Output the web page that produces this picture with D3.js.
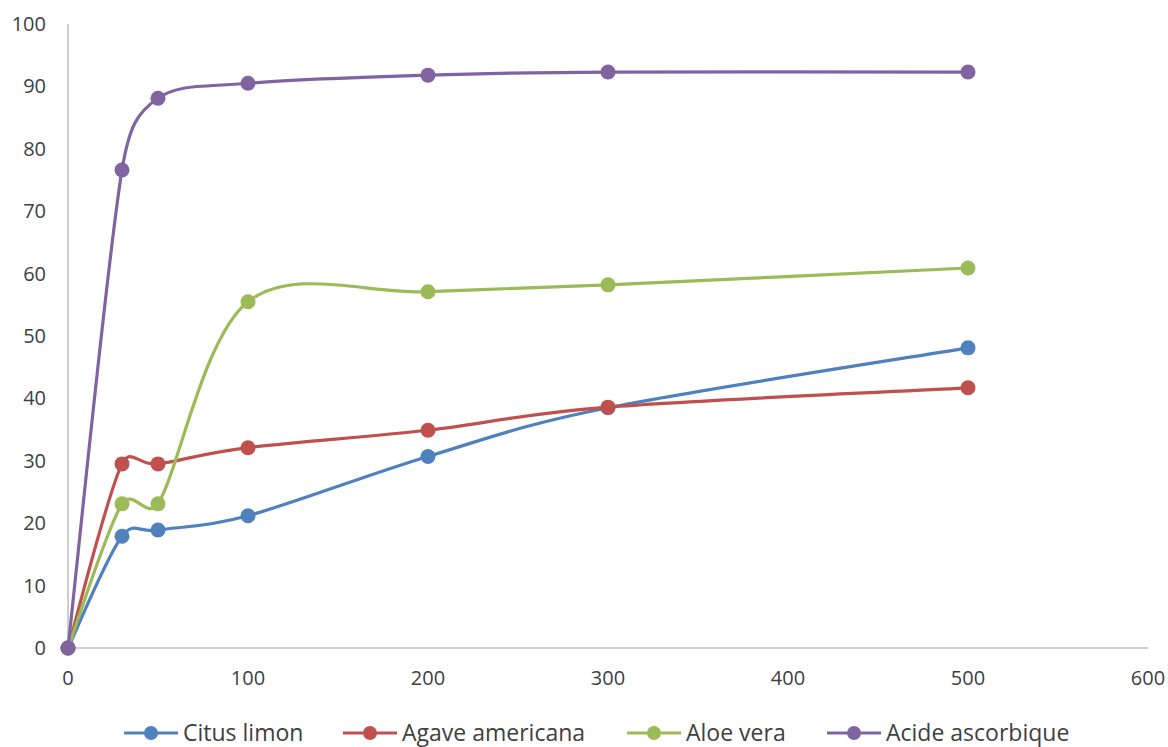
<!DOCTYPE html>
<html>
<head>
<meta charset="utf-8">
<script src="https://cdn.jsdelivr.net/npm/d3@7/dist/d3.min.js"></script>
<style>
  html, body { margin: 0; padding: 0; background: #fff; }
  svg text { font-family: "Open Sans", "Noto Sans", sans-serif; fill: #404040; }
</style>
</head>
<body>
<svg id="chart" width="1168" height="747"></svg>
<script>
// Concentrations (x) and percentage values per extract
const concentrations = [0, 30, 50, 100, 200, 300, 500];
const citusLimon      = [0, 17.9, 18.9, 21.2, 30.7, 38.5, 48.1];
const agaveAmericana  = [0, 29.5, 29.5, 32.1, 34.9, 38.6, 41.7];
const aloeVera        = [0, 23.1, 23.1, 55.5, 57.1, 58.2, 60.9];
const acideAscorbique = [0, 76.6, 88.1, 90.5, 91.8, 92.3, 92.3];

const seriesNames = ["Citus limon", "Agave americana", "Aloe vera", "Acide ascorbique"];
const seriesValues = [citusLimon, agaveAmericana, aloeVera, acideAscorbique];
const seriesColors = ["#4F81BD", "#C0504D", "#9BBB59", "#8064A2"];

const xTicks = [0, 100, 200, 300, 400, 500, 600];
const yTicks = [0, 10, 20, 30, 40, 50, 60, 70, 80, 90, 100];

const svg = d3.select("#chart");
const x = d3.scaleLinear().domain([0, 600]).range([68, 1148]);
const y = d3.scaleLinear().domain([0, 100]).range([648, 24]);

// Smooth Bezier curve: tangents of (next - prev) / 6, shortened so a
// control handle never exceeds a fraction of its own segment length.
function smoothCurve(context) {
  let pts = [];
  return {
    areaStart() {}, areaEnd() {},
    lineStart() { pts = []; },
    point(px, py) { pts.push([+px, +py]); },
    lineEnd() {
      const n = pts.length;
      if (!n) return;
      context.moveTo(pts[0][0], pts[0][1]);
      const tan = pts.map((p, i) => {
        const a = pts[Math.max(0, i - 1)], b = pts[Math.min(n - 1, i + 1)];
        return [(b[0] - a[0]) / 6, (b[1] - a[1]) / 6];
      });
      const clamp = (t, len) => {
        const m = Math.hypot(t[0], t[1]), lim = 0.55 * len;
        return m > lim ? [t[0] * lim / m, t[1] * lim / m] : t;
      };
      for (let i = 0; i < n - 1; i++) {
        const p0 = pts[i], p1 = pts[i + 1];
        const len = Math.hypot(p1[0] - p0[0], p1[1] - p0[1]);
        const t0 = clamp(tan[i], len), t1 = clamp(tan[i + 1], len);
        context.bezierCurveTo(p0[0] + t0[0], p0[1] + t0[1],
                              p1[0] - t1[0], p1[1] - t1[1],
                              p1[0], p1[1]);
      }
    }
  };
}

// Axis lines
svg.append("line").attr("x1", x(0)).attr("x2", x(0)).attr("y1", y(100)).attr("y2", y(0))
  .attr("stroke", "#BFBFBF").attr("stroke-width", 1.5);
svg.append("line").attr("x1", x(0)).attr("x2", x(600)).attr("y1", y(0)).attr("y2", y(0))
  .attr("stroke", "#BFBFBF").attr("stroke-width", 1.5);

// Tick labels
svg.selectAll("text.ytick").data(yTicks).join("text")
  .attr("class", "ytick")
  .attr("x", 46).attr("y", d => y(d))
  .attr("dy", "0.35em").attr("text-anchor", "end")
  .attr("font-size", 20).text(d => d);

svg.selectAll("text.xtick").data(xTicks).join("text")
  .attr("class", "xtick")
  .attr("x", d => x(d)).attr("y", 678)
  .attr("dy", "0.35em").attr("text-anchor", "middle")
  .attr("font-size", 20).text(d => d);

// Smoothed lines with markers
const line = d3.line()
  .x((d, i) => x(concentrations[i]))
  .y(d => y(d))
  .curve(smoothCurve);

seriesValues.forEach((vals, s) => {
  const g = svg.append("g");
  g.append("path").datum(vals)
    .attr("d", line)
    .attr("fill", "none")
    .attr("stroke", seriesColors[s])
    .attr("stroke-width", 3.2)
    .attr("stroke-linejoin", "round");
  g.selectAll("circle").data(vals).join("circle")
    .attr("cx", (d, i) => x(concentrations[i]))
    .attr("cy", d => y(d))
    .attr("r", 7.5)
    .attr("fill", seriesColors[s]);
});

// Legend
const legendX = [124, 343, 627, 827];
const legendY = 733;
seriesNames.forEach((name, s) => {
  const g = svg.append("g").attr("transform", `translate(${legendX[s]},${legendY})`);
  g.append("line").attr("x1", 0).attr("x2", 54).attr("y1", 0).attr("y2", 0)
    .attr("stroke", seriesColors[s]).attr("stroke-width", 3.2);
  g.append("circle").attr("cx", 27).attr("cy", 0).attr("r", 7).attr("fill", seriesColors[s]);
  g.append("text").attr("x", 59).attr("y", 0).attr("dy", "0.35em")
    .attr("font-size", 23).text(name);
});
</script>
</body>
</html>
